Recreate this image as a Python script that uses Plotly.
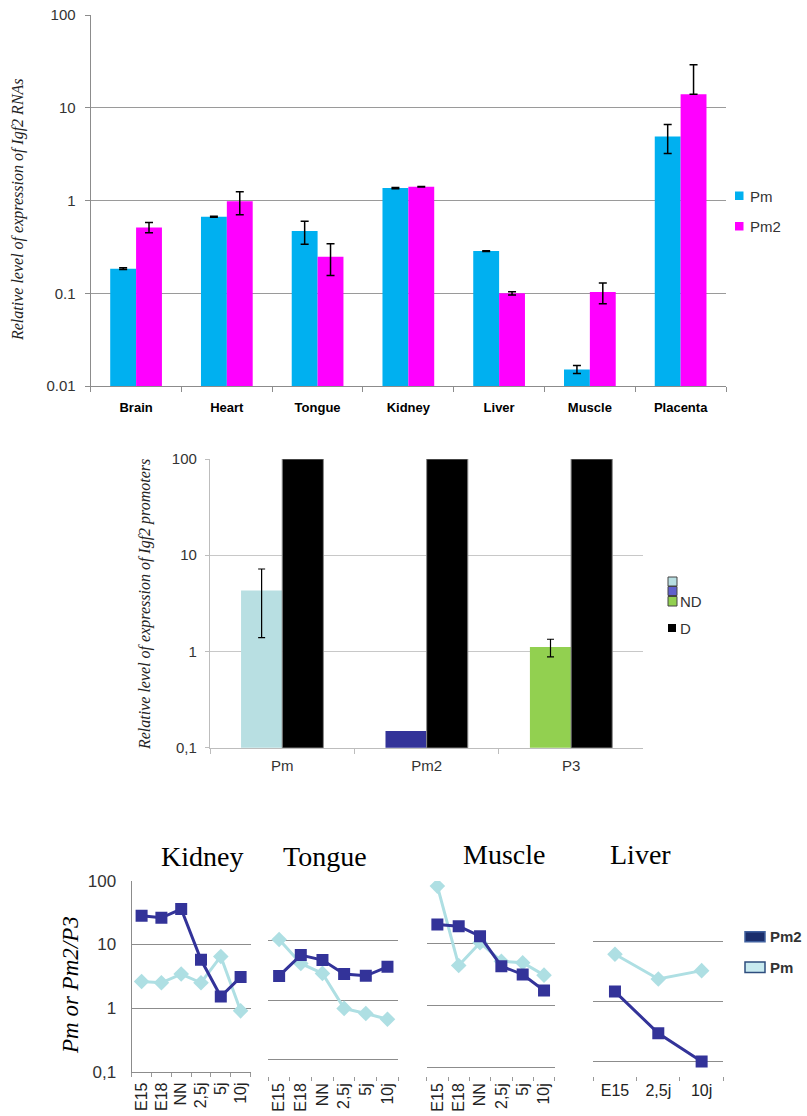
import plotly.graph_objects as go

W, H = 807, 1116
def fx(p): return p / W
def fy(p): return 1 - p / H

# ---------------- Panel A data ----------------
tissues = ["Brain", "Heart", "Tongue", "Kidney", "Liver", "Muscle", "Placenta"]
pm_vals = [0.184, 0.667, 0.468, 1.36, 0.285, 0.0151, 4.91]
pm_err = [0.004, 0.008, 0.13, 0.02, 0.003, 0.0015, 1.7]
pm2_vals = [0.51, 0.98, 0.248, 1.41, 0.100, 0.103, 14.0]
pm2_err_plus = [0.07, 0.26, 0.093, 0.01, 0.004, 0.026, 15.0]
pm2_err_minus = [0.06, 0.28, 0.093, 0.01, 0.004, 0.026, 0.0]
a_ticks = [0.01, 0.1, 1, 10, 100]
a_ticktext = ["0.01", "0.1", "1", "10", "100"]

# ---------------- Panel B data ----------------
promoters = ["Pm", "Pm2", "P3"]
nd_vals = [4.29, 0.149, 1.11]
nd_err = [2.9, 0.0, 0.23]
d_vals = [100, 100, 100]
nd_colors = ["#B8DFE2", "#333399", "#92D050"]
b_ticks = [0.1, 1, 10, 100]
b_ticktext = ["0,1", "1", "10", "100"]

# ---------------- Panel C data ----------------
stages6 = ["E15", "E18", "NN", "2,5j", "5j", "10j"]
stages3 = ["E15", "2,5j", "10j"]
kidney_pm2 = [28.2, 26.2, 35.9, 5.75, 1.53, 3.08]
kidney_pm = [2.63, 2.51, 3.44, 2.51, 6.49, 0.91]
tongue_pm2 = [2.55, 5.7, 4.7, 2.74, 2.56, 3.63]
tongue_pm = [10.4, 4.13, 2.81, 0.73, 0.60, 0.48]
muscle_pm2 = [20.0, 18.8, 13.0, 4.28, 3.15, 1.74]
muscle_pm = [82.8, 4.4, 10.2, 5.15, 4.86, 3.07]
liver_pm2 = [1.45, 0.29, 0.098]
liver_pm = [6.1, 2.36, 3.25]
c_ticks = [0.1, 1, 10, 100]
c_ticktext = ["0,1", "1", "10", "100"]

PM_C = "#00B0F0"
PM2_C = "#FF00FF"
DARK = "#333399"
LIGHT = "#AEDFE3"
SANS = "Liberation Sans, Arial, sans-serif"
NARROW = "Liberation Sans Narrow, Arial Narrow, Liberation Sans, sans-serif"
SERIF = "Liberation Serif, Times New Roman, serif"

fig = go.Figure()

# Panel A bars
fig.add_trace(go.Bar(x=tissues, y=pm_vals, name="Pm", marker=dict(color=PM_C, line=dict(width=0)),
                     error_y=dict(type="data", array=pm_err, color="black", thickness=1.5, width=4),
                     xaxis="x", yaxis="y", showlegend=False))
fig.add_trace(go.Bar(x=tissues, y=pm2_vals, name="Pm2", marker=dict(color=PM2_C, line=dict(width=0)),
                     error_y=dict(type="data", symmetric=False, array=pm2_err_plus, arrayminus=pm2_err_minus,
                                  color="black", thickness=1.5, width=4),
                     xaxis="x", yaxis="y", showlegend=False))

# Panel B bars: ND bars with error bars (only where measured) share one offset group
err_idx = [i for i, e in enumerate(nd_err) if e > 0]
noerr_idx = [i for i, e in enumerate(nd_err) if e == 0]
fig.add_trace(go.Bar(x=[promoters[i] for i in err_idx], y=[nd_vals[i] for i in err_idx], name="ND",
                     marker=dict(color=[nd_colors[i] for i in err_idx], line=dict(width=0)),
                     error_y=dict(type="data", array=[nd_err[i] for i in err_idx], color="black",
                                  thickness=1.2, width=3.5),
                     offsetgroup="nd", xaxis="x2", yaxis="y2", showlegend=False))
fig.add_trace(go.Bar(x=[promoters[i] for i in noerr_idx], y=[nd_vals[i] for i in noerr_idx], name="ND",
                     marker=dict(color=[nd_colors[i] for i in noerr_idx], line=dict(width=0)),
                     offsetgroup="nd", xaxis="x2", yaxis="y2", showlegend=False))
fig.add_trace(go.Bar(x=promoters, y=d_vals, name="D", marker=dict(color="black", line=dict(width=1, color="#8a8a8a")),
                     offsetgroup="d", xaxis="x2", yaxis="y2", showlegend=False))

# Panel C lines
def add_pair(xs, pm, pm2, xa, ya):
    fig.add_trace(go.Scatter(x=xs, y=pm, mode="lines+markers", name="Pm",
                             line=dict(color=LIGHT, width=3),
                             marker=dict(symbol="diamond", size=12, color=LIGHT),
                             xaxis=xa, yaxis=ya, showlegend=False))
    fig.add_trace(go.Scatter(x=xs, y=pm2, mode="lines+markers", name="Pm2",
                             line=dict(color=DARK, width=3),
                             marker=dict(symbol="square", size=12, color=DARK),
                             xaxis=xa, yaxis=ya, showlegend=False))

add_pair(stages6, kidney_pm, kidney_pm2, "x3", "y3")
add_pair(stages6, tongue_pm, tongue_pm2, "x4", "y4")
add_pair(stages6, muscle_pm, muscle_pm2, "x5", "y5")
add_pair(stages3, liver_pm, liver_pm2, "x6", "y6")

layout = dict(
    width=W, height=H, margin=dict(l=0, r=0, t=0, b=0, autoexpand=False),
    paper_bgcolor="white", plot_bgcolor="white",
    bargap=0.43, bargroupgap=0, barmode="group", showlegend=False,
)

# Panel A axes
layout["xaxis"] = dict(domain=[fx(90.7), fx(726)], anchor="y", type="category", range=[-0.5, 6.5],
                       automargin=False, categoryorder="array", categoryarray=tissues,
                       showline=True, linecolor="#8c8c8c", linewidth=1.2, ticks="outside", tickson="boundaries",
                       ticklen=5, tickcolor="#8c8c8c", showgrid=False, zeroline=False,
                       tickfont=dict(family=SANS, size=13, color="black", weight="bold"), ticklabelstandoff=9)
layout["yaxis"] = dict(domain=[fy(386), fy(15)], anchor="x", type="log", range=[-2, 2],
                       automargin=False,
                       tickmode="array", tickvals=a_ticks, ticktext=a_ticktext,
                       showline=True, linecolor="#8c8c8c", linewidth=1.2, ticks="outside", ticklen=5,
                       tickcolor="#8c8c8c", showgrid=True, gridcolor="#9a9a9a", gridwidth=1.3, zeroline=False,
                       tickfont=dict(family=SANS, size=15, color="#333"), ticklabelstandoff=6)

# Panel B axes
layout["xaxis2"] = dict(domain=[fx(210), fx(643.3)], anchor="y2", type="category", range=[-0.5, 2.5],
                        automargin=False, categoryorder="array", categoryarray=promoters,
                        showline=True, linecolor="#bdbdbd", linewidth=1.2, ticks="outside", tickson="boundaries",
                        ticklen=5, tickcolor="#bdbdbd", showgrid=False, zeroline=False,
                        tickfont=dict(family=SANS, size=15, color="#333"), ticklabelstandoff=4)
layout["yaxis2"] = dict(domain=[fy(747.7), fy(459)], anchor="x2", type="log", range=[-1, 2],
                        automargin=False,
                        tickmode="array", tickvals=b_ticks, ticktext=b_ticktext,
                        showline=True, linecolor="#bdbdbd", linewidth=1.2, ticks="outside", ticklen=4,
                        tickcolor="#bdbdbd", showgrid=True, gridcolor="#c8c8c8", gridwidth=1.2, zeroline=False,
                        tickfont=dict(family=SANS, size=15, color="#333"), ticklabelstandoff=5)

# Panel C axes
def c_x(dom, anchor, cats, angle, showline):
    return dict(domain=dom, anchor=anchor, type="category", range=[-0.5, len(cats) - 0.5],
                automargin=False, categoryorder="array", categoryarray=cats,
                showline=showline, linecolor="#8c8c8c", linewidth=1.2, ticks="outside",
                tickson="boundaries", ticklen=4, tickcolor="#999", showgrid=False, zeroline=False,
                tickangle=angle, tickfont=dict(family=NARROW, size=16, color="#222"), ticklabelstandoff=3)

def c_y(dom, anchor, rng, labels, showline):
    d = dict(domain=dom, anchor=anchor, type="log", range=rng, tickmode="array", tickvals=c_ticks,
             automargin=False,
             showline=showline, linecolor="#8c8c8c", linewidth=1.2, ticks="",
             showgrid=True, gridcolor="#8c8c8c", gridwidth=1.2, zeroline=False,
             showticklabels=labels, tickfont=dict(family=NARROW, size=17, color="#333"), ticklabelstandoff=11)
    if labels:
        d["ticktext"] = c_ticktext
    return d

layout["xaxis3"] = c_x([fx(131.7), fx(250.5)], "y3", stages6, -90, True)
layout["yaxis3"] = c_y([fy(1072), fy(880.7)], "x3", [-1, 2], True, True)
layout["xaxis4"] = c_x([fx(268.3), fx(398.3)], "y4", stages6, -90, False)
layout["yaxis4"] = c_y([fy(1076), fy(880.7)], "x4", [-1.268, 2], False, False)
layout["xaxis5"] = c_x([fx(426.7), fx(554.7)], "y5", stages6, -90, False)
layout["yaxis5"] = c_y([fy(1076), fy(881)], "x5", [-1.133, 2], False, False)
layout["xaxis6"] = c_x([fx(593.3), fx(723.3)], "y6", stages3, 0, False)
layout["yaxis6"] = c_y([fy(1076), fy(881.7)], "x6", [-1.251, 2], False, False)

fig.update_layout(**layout)

ann = []
shapes = []

def text(x, y, s, size, family=SANS, color="#333", xanchor="left", angle=0, yanchor="middle"):
    ann.append(dict(x=fx(x), y=fy(y), xref="paper", yref="paper", text=s, showarrow=False,
                    xanchor=xanchor, yanchor=yanchor, textangle=angle,
                    font=dict(family=family, size=size, color=color)))

def rect(x0, y0, x1, y1, fill, line="rgba(0,0,0,0)", lw=0):
    shapes.append(dict(type="rect", xref="paper", yref="paper", x0=fx(x0), x1=fx(x1), y0=fy(y1), y1=fy(y0),
                       fillcolor=fill, line=dict(color=line, width=lw), layer="above"))

# Panel A: y title + legend
text(18, 210, "<i>Relative level of expression of Igf2 RNAs</i>", 16, SERIF, "#222", "center", -90)
rect(735, 191.5, 743.5, 200, PM_C)
rect(735, 222, 743.5, 230.5, PM2_C)
text(748, 196, "Pm", 15)
text(748, 226.5, "Pm2", 15)

# Panel B: y title + legend
text(145, 605, "<i>Relative level of expression of Igf2 promoters</i>", 16, SERIF, "#222", "center", -90)
rect(668, 577, 677, 586, "#B8DFE2", "#444", 1)
rect(668, 586.5, 677, 595.5, "#6060CC", "#444", 1)
rect(668, 596.5, 677, 606, "#92D050", "#444", 1)
text(677.5, 601.5, "ND", 15)
rect(668, 624, 676, 632, "black")
text(678, 628.5, "D", 15)

# Panel C: titles, y title, legend
text(202, 856, "Kidney", 28, SERIF, "black", "center")
text(324.5, 856, "Tongue", 28, SERIF, "black", "center")
text(503.5, 854, "Muscle", 28, SERIF, "black", "center")
text(640, 854, "Liver", 28, SERIF, "black", "center")
text(70, 985, "<i>Pm or Pm2/P3</i>", 23, SERIF, "black", "center", -90)
rect(745, 931.7, 765, 941.7, "#1B2E6C", "#41619F", 1.5)
rect(745, 962, 765, 972.5, "#C8EAF0", "#2E4D7E", 1.5)
text(768, 936.7, "<b>Pm2</b>", 15, SANS, "#333")
text(768, 967.5, "<b>Pm</b>", 15, SANS, "#333")

fig.update_layout(annotations=ann, shapes=shapes)
fig.write_html("out.html", config={"displayModeBar": False},
               post_script="document.body.style.margin='0';document.body.style.overflow='hidden';")
